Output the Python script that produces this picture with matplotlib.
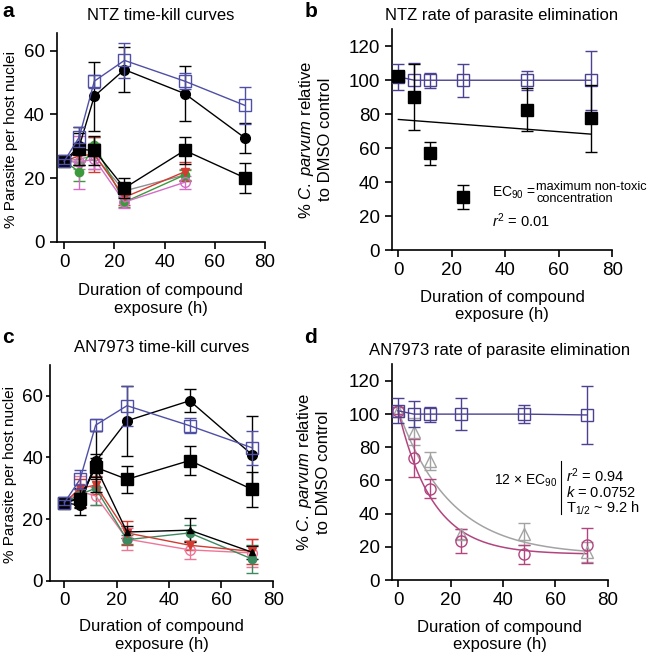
import numpy as np
import matplotlib
matplotlib.use('Agg')
import matplotlib.pyplot as plt

plt.rcParams['font.family'] = ['Liberation Sans', 'DejaVu Sans']
plt.rcParams['mathtext.fontset'] = 'custom'
plt.rcParams['mathtext.rm'] = 'Liberation Sans'
plt.rcParams['mathtext.it'] = 'Liberation Sans:italic'

# sampling times (h)
times = [0, 6, 12, 24, 48, 72]

# panel a - NTZ time-kill curves (mean, error)
a_blue = [25.3, 32.9, 50.4, 56.9, 50.4, 42.8]
a_blue_err = [0.8, 3.0, 2.0, 5.5, 2.5, 5.7]
a_circ = [25.3, 30.0, 45.7, 54.0, 46.5, 32.6]
a_circ_err = [0.8, 6.0, 10.8, 7.0, 8.5, 4.8]
a_sq = [25.3, 29.0, 28.7, 16.9, 28.7, 20.1]
a_sq_err = [0.8, 5.0, 4.5, 3.2, 4.2, 4.6]
a_gray = [25.3, 26.0, 27.0, 16.0, 21.0, np.nan]
a_gray_err = [0.5, 3.0, 4.0, 1.5, 2.0, 0]
a_green = [25.3, 22.0, 30.5, 12.5, 21.0, np.nan]
a_green_err = [0.5, 3.0, 2.5, 1.5, 1.5, 0]
a_red = [25.3, 27.0, 27.5, 14.0, 22.0, np.nan]
a_red_err = [0.5, 3.0, 5.5, 2.5, 3.0, 0]
a_pink = [25.3, 25.0, 26.0, 12.5, 18.7, np.nan]
a_pink_err = [0.5, 8.3, 3.0, 2.0, 2.0, 0]

# panel b - NTZ rate of elimination (% of DMSO)
b_blue = [102, 100, 100, 100, 100, 100]
b_blue_err = [7.5, 10.0, 4.5, 9.8, 5.5, 17.5]
b_sq = [102.3, 90.2, 56.9, 31.4, 82.7, 77.5]
b_sq_err = [0, 19.5, 6.6, 7.0, 12.5, 19.7]
b_fit_intercept = 76.9
b_fit_slope = -0.12

# panel c - AN7973 time-kill curves
c_blue = [25.3, 32.9, 50.5, 56.8, 50.3, 43.1]
c_blue_err = [0.8, 3.0, 2.0, 6.5, 2.5, 5.5]
c_circ = [25.3, 24.5, 38.7, 51.9, 58.4, 40.8]
c_circ_err = [0.8, 3.3, 10.0, 11.3, 3.8, 12.6]
c_sq = [25.3, 26.6, 36.8, 32.9, 39.0, 29.6]
c_sq_err = [0.8, 3.0, 3.0, 4.3, 4.7, 5.8]
c_blk = [25.3, 27.0, 37.0, 15.8, 16.4, 9.2]
c_blk_err = [0.5, 3.0, 4.0, 2.0, 4.0, 2.0]
c_green = [25.3, 28.0, 30.0, 13.3, 15.5, 7.0]
c_green_err = [0.5, 3.0, 5.5, 1.5, 2.5, 4.5]
c_red = [25.3, 30.0, 31.0, 15.5, 11.5, 9.5]
c_red_err = [0.5, 3.0, 3.0, 4.0, 1.5, 4.0]
c_pink = [25.3, 29.0, 27.5, 13.5, 10.0, 9.0]
c_pink_err = [0.5, 5.0, 3.0, 3.5, 3.0, 4.5]

# panel d - AN7973 rate of elimination
d_blue = [102, 100, 100, 100, 100, 99.5]
d_blue_err = [7.5, 8.0, 4.5, 9.8, 5.5, 17.5]
d_circ = [102, 73.6, 55.0, 23.4, 15.4, 21.0]
d_circ_err = [2.0, 11.5, 5.6, 7.2, 6.0, 10.5]
d_tri = [102, 89.4, 72.0, 28.0, 28.0, 17.0]
d_tri_err = [2.0, 8.0, 5.4, 3.0, 6.6, 6.0]
# one-phase decay fits: top, plateau, k
d_circ_fit = (102, 15.5, 0.0752)
d_tri_fit = (102, 15.0, 0.05)

BLUE = '#4f4fa6'
BLUE_D = '#4b4290'
GREEN = '#3c9a3c'
GREEN_C = '#3d8a60'
RED = '#d33a30'
PINK = '#d46cc6'
PINK_C = '#ef7598'
GRAY = '#8f8f8f'
MAG = '#b2457f'

fig = plt.figure(figsize=(6.5, 6.54), dpi=100)
ax_a = fig.add_axes([0.0872, 0.630, 0.3205, 0.3196])
ax_b = fig.add_axes([0.6026, 0.6177, 0.3394, 0.3375])
ax_c = fig.add_axes([0.0769, 0.1121, 0.3435, 0.3298])
ax_d = fig.add_axes([0.6026, 0.1131, 0.3323, 0.3298])


def series(ax, y, err, color, marker, mfc=None, ms=7, lc=None, z=2):
    ax.errorbar(times, y, yerr=err, color=lc or color, ecolor=color,
                marker=marker, mfc=mfc if mfc is not None else color,
                mec=color, ms=ms, lw=1, elinewidth=1, capsize=4,
                capthick=1, zorder=z)


def style(ax, xlim, ylim, yticks, pad):
    ax.set_xlim(*xlim)
    ax.set_ylim(*ylim)
    ax.set_xticks([0, 20, 40, 60, 80])
    ax.set_yticks(yticks)
    for s in ['top', 'right']:
        ax.spines[s].set_visible(False)
    ax.spines['left'].set_linewidth(1.2)
    ax.spines['bottom'].set_linewidth(1.2)
    ax.tick_params(direction='out', length=5, width=1.2, labelsize=13.5)
    ax.set_xlabel('Duration of compound\nexposure (h)', fontsize=12,
                  labelpad=pad)


# --- a
series(ax_a, a_gray, a_gray_err, GRAY, '^', mfc='none', ms=6)
series(ax_a, a_green, a_green_err, GREEN, 'o', ms=6)
series(ax_a, a_red, a_red_err, RED, 'v', ms=6)
series(ax_a, a_pink, a_pink_err, PINK, 'o', mfc='none', ms=7)
series(ax_a, a_sq, a_sq_err, 'black', 's', ms=8, z=3)
series(ax_a, a_circ, a_circ_err, 'black', 'o', ms=7, z=3)
series(ax_a, a_blue, a_blue_err, BLUE, 's', mfc='none', ms=8, z=4)
style(ax_a, (-3, 80), (0, 65.5), [0, 20, 40, 60], 9)
ax_a.set_title('NTZ time-kill curves', fontsize=12, pad=9)
ax_a.set_ylabel('% Parasite per host nuclei', fontsize=11)
ax_a.yaxis.set_label_coords(-0.185, 0.49)

# --- b
series(ax_b, b_blue, b_blue_err, BLUE_D, 's', mfc='none', ms=8, z=3)
ax_b.errorbar(times, b_sq, yerr=b_sq_err, fmt='s', color='black', ms=8,
              elinewidth=1, capsize=4, capthick=1, zorder=4)
fx = np.array([0, 72])
ax_b.plot(fx, b_fit_intercept + b_fit_slope * fx, color='black', lw=1)
style(ax_b, (-2.5, 80), (0, 130), [0, 20, 40, 60, 80, 100, 120], 8)
ax_b.set_title('NTZ rate of parasite elimination', fontsize=12, pad=7)
ax_b.set_ylabel('% $\\mathit{C.\\ parvum}$ relative\nto DMSO control',
                fontsize=12)
ax_b.yaxis.set_label_coords(-0.265, 0.5)
ax_b.text(35, 33.5, 'EC$_{90}$ =', fontsize=10, va='center')
ax_b.text(51.5, 33.5, 'maximum non-toxic\nconcentration', fontsize=9.2,
          va='center', linespacing=1.0)
ax_b.text(35, 17, '$r^2$ = 0.01', fontsize=10.5, va='center')

# --- c
series(ax_c, c_pink, c_pink_err, PINK_C, 'o', mfc='none', ms=7)
series(ax_c, c_green, c_green_err, GREEN_C, 'o', ms=6)
series(ax_c, c_red, c_red_err, RED, 'v', ms=6)
series(ax_c, c_blk, c_blk_err, 'black', '^', ms=4)
series(ax_c, c_sq, c_sq_err, 'black', 's', ms=8, z=3)
series(ax_c, c_circ, c_circ_err, 'black', 'o', ms=7, z=3)
series(ax_c, c_blue, c_blue_err, BLUE, 's', mfc='none', ms=8, z=4)
style(ax_c, (-5.5, 80), (0, 70), [0, 20, 40, 60], 7)
ax_c.tick_params(axis='y', length=3, pad=2)
ax_c.set_title('AN7973 time-kill curves', fontsize=12, pad=9)
ax_c.set_ylabel('% Parasite per host nuclei', fontsize=11)
ax_c.yaxis.set_label_coords(-0.146, 0.49)

# --- d
tt = np.linspace(0, 72, 200)
for (top, plat, k), col in [(d_tri_fit, '#a3a3a3'), (d_circ_fit, MAG)]:
    ax_d.plot(tt, plat + (top - plat) * np.exp(-k * tt), color=col, lw=1.1)
series(ax_d, d_tri, d_tri_err, '#a3a3a3', '^', mfc='none', ms=8, lc='none')
series(ax_d, d_circ, d_circ_err, MAG, 'o', mfc='none', ms=8, lc='none')
series(ax_d, d_blue, d_blue_err, BLUE_D, 's', mfc='none', ms=8, z=4)
style(ax_d, (-2.5, 80), (0, 130), [0, 20, 40, 60, 80, 100, 120], 8)
ax_d.set_title('AN7973 rate of parasite elimination', fontsize=12, pad=7)
ax_d.set_ylabel('% $\\mathit{C.\\ parvum}$ relative\nto DMSO control',
                fontsize=12)
ax_d.yaxis.set_label_coords(-0.28, 0.5)
ax_d.text(60.5, 60, '12 × EC$_{90}$', fontsize=10, ha='right', va='center')
ax_d.plot([62, 62], [40, 72], color='black', lw=0.8)
ax_d.text(64, 63, '$r^2$ = 0.94', fontsize=10.5, va='center')
ax_d.text(64, 53, '$k$ = 0.0752', fontsize=10.5, va='center')
ax_d.text(64, 43.5, 'T$_{1/2}$ ~ 9.2 h', fontsize=10.5, va='center')

for lab, x, y in [('a', 0.003, 0.997), ('b', 0.468, 0.997),
                  ('c', 0.003, 0.499), ('d', 0.468, 0.499)]:
    fig.text(x, y, lab, fontsize=15, fontweight='bold', va='top')

fig.savefig('out.png', dpi=100)
